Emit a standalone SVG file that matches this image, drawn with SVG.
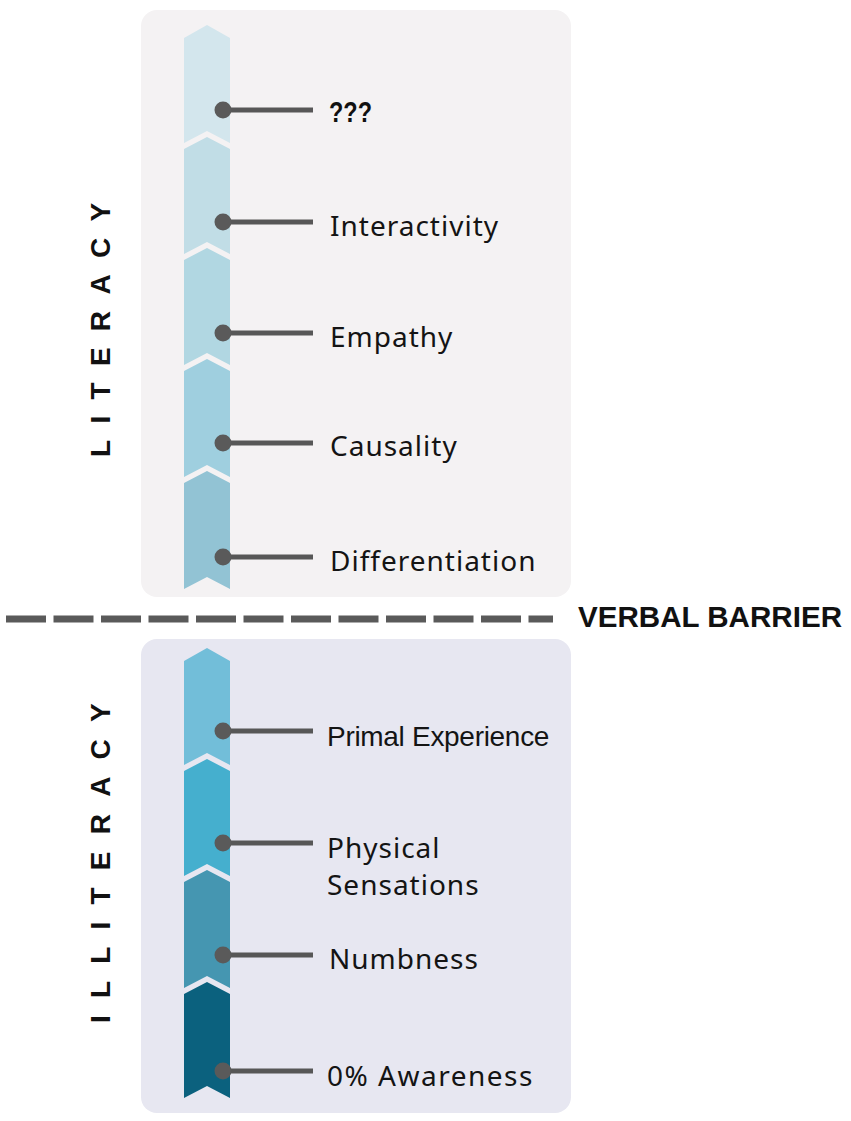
<svg xmlns="http://www.w3.org/2000/svg" width="851" height="1121" viewBox="0 0 851 1121">
<style>
.lbl{font-family:"Noto Sans","Open Sans",sans-serif;font-size:28px;letter-spacing:1px;fill:#141414}
.side{font-family:"Liberation Sans",Arial,sans-serif;font-size:28px;font-weight:bold;fill:#111}
.conn{stroke:#575757;stroke-width:5}
.dot{fill:#5a5a5a}
</style>
<rect width="851" height="1121" fill="#ffffff"/>
<g id="literacy-panel">
<rect x="141" y="10" width="430" height="587" rx="16" fill="#f4f2f3"/>
<text class="side" transform="translate(110,457) rotate(-90)" style="letter-spacing:16.3px">LITERACY</text>
</g>
<g id="illiteracy-panel">
<rect x="141" y="639" width="430" height="474" rx="16" fill="#e7e7f1"/>
<text class="side" transform="translate(110,1023) rotate(-90)" style="letter-spacing:17.2px">ILLITERACY</text>
</g>
<g id="chevrons">
<polygon id="seg-unknown" points="207,25 230,38 230,143 207,131 184,143 184,38" fill="#d3e6ed"/>
<polygon id="seg-interactivity" points="207,137 230,149 230,254 207,242 184,254 184,149" fill="#c1dde6"/>
<polygon id="seg-empathy" points="207,248 230,260 230,365 207,353 184,365 184,260" fill="#b1d7e2"/>
<polygon id="seg-causality" points="207,359 230,371 230,477 207,465 184,477 184,371" fill="#9fcfdf"/>
<polygon id="seg-differentiation" points="207,471 230,483 230,589 207,577 184,589 184,483" fill="#92c3d4"/>
<polygon id="seg-primal" points="207,648 230,661 230,765 207,753 184,765 184,661" fill="#72bed9"/>
<polygon id="seg-physical" points="207,759 230,771 230,876 207,864 184,876 184,771" fill="#45afce"/>
<polygon id="seg-numbness" points="207,870 230,882 230,988 207,976 184,988 184,882" fill="#4596b1"/>
<polygon id="seg-zero" points="207,982 230,994 230,1098 207,1086 184,1098 184,994" fill="#0b617e"/>
</g>
<g id="connectors">
<line class="conn" x1="223" y1="110" x2="313" y2="110"/>
<line class="conn" x1="223" y1="222" x2="313" y2="222"/>
<line class="conn" x1="223" y1="333" x2="313" y2="333"/>
<line class="conn" x1="223" y1="443" x2="313" y2="443"/>
<line class="conn" x1="223" y1="557" x2="313" y2="557"/>
<line class="conn" x1="223" y1="731" x2="313" y2="731"/>
<line class="conn" x1="223" y1="843" x2="313" y2="843"/>
<line class="conn" x1="223" y1="955" x2="313" y2="955"/>
<line class="conn" x1="223" y1="1071" x2="313" y2="1071"/>
<circle class="dot" cx="223" cy="110" r="8.5"/>
<circle class="dot" cx="223" cy="222" r="8.5"/>
<circle class="dot" cx="223" cy="333" r="8.5"/>
<circle class="dot" cx="223" cy="443" r="8.5"/>
<circle class="dot" cx="223" cy="557" r="8.5"/>
<circle class="dot" cx="223" cy="731" r="8.5"/>
<circle class="dot" cx="223" cy="843" r="8.5"/>
<circle class="dot" cx="223" cy="955" r="8.5"/>
<circle class="dot" cx="223" cy="1071" r="8.5"/>
</g>
<g id="labels">
<text id="n-unknown" x="329" y="122" font-family="Liberation Sans, Arial, sans-serif" font-size="29" font-weight="bold" fill="#111" textLength="43" lengthAdjust="spacingAndGlyphs">???</text>
<text id="n-interactivity" class="lbl" x="330" y="236">Interactivity</text>
<text id="n-empathy" class="lbl" x="330" y="347">Empathy</text>
<text id="n-causality" class="lbl" x="330" y="456">Causality</text>
<text id="n-differentiation" class="lbl" x="330" y="571">Differentiation</text>
<text id="n-primal" x="327" y="746" font-family="Liberation Sans, Arial, sans-serif" font-size="28" style="letter-spacing:-0.3px" fill="#141414">Primal Experience</text>
<text id="n-physical" class="lbl" x="327" y="858">Physical</text>
<text id="n-sensations" class="lbl" x="327" y="895">Sensations</text>
<text id="n-numbness" class="lbl" x="329" y="969">Numbness</text>
<text id="n-zero" class="lbl" x="327" y="1086" style="letter-spacing:1.5px">0% Awareness</text>
</g>
<g id="barrier">
<line x1="6" y1="619" x2="553" y2="619" stroke="#5a5a5a" stroke-width="7" stroke-dasharray="40 7.5"/>
<text x="578" y="627" font-family="Liberation Sans, Arial, sans-serif" font-size="30" font-weight="bold" fill="#111" textLength="264" lengthAdjust="spacingAndGlyphs">VERBAL BARRIER</text>
</g>
</svg>
